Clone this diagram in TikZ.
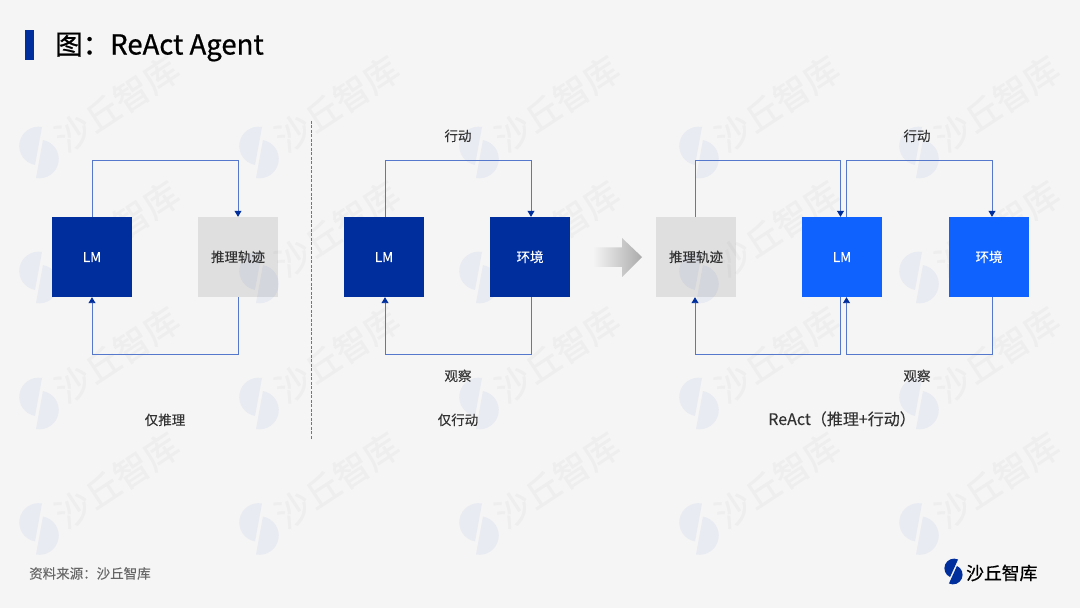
\documentclass[tikz,border=0pt]{standalone}
\usepackage{fontspec}
\usepackage{xcolor}
\setmainfont{Noto Sans CJK SC}[FakeBold=0.15]
\newfontfamily\heavyfont{Noto Sans CJK SC}[FakeBold=0.7]
\usetikzlibrary{arrows.meta,calc}
\definecolor{page}{HTML}{F5F5F5}
\definecolor{text}{HTML}{333333}
\definecolor{muted}{HTML}{666666}
\definecolor{navy}{HTML}{002E9C}
\definecolor{bright}{HTML}{0F62FE}
\definecolor{wire}{HTML}{5577CC}
\definecolor{markdisc}{HTML}{E9EBF2}
\definecolor{markword}{HTML}{EEEEEE}
\newcommand{\px}[1]{\fontsize{#1pt}{#1pt}\selectfont}
\tikzset{
  boxbase/.style={minimum size=80pt, inner sep=0pt, text height=12pt, text depth=2pt, font=\px{13.5}},
  navybox/.style={boxbase, fill=navy, text=white},
  brightbox/.style={boxbase, fill=bright, text=white},
  greybox/.style={boxbase, fill=black, fill opacity=0.085, text=text, text opacity=1},
  wirearrow/.style={-{Triangle[length=6pt,width=7pt,color=navy]}, line width=0.9pt, draw=wire},
  label/.style={text=text, inner sep=0pt, text height=12pt, text depth=2pt, font=\px{13.5}},
  markword/.style={text=markword, inner sep=0pt, rotate=33.5, font=\heavyfont\px{35}},
  halves/.pic={
    \fill (3,25.5) arc[start angle=79.6, end angle=259.6, radius=19.3] -- cycle;
    \fill (-3,-25.5) arc[start angle=259.6, end angle=439.6, radius=19.3] -- cycle;
  }
}
\begin{document}
\begin{tikzpicture}[x=1pt,y=1pt,>=Latex]
    \useasboundingbox[fill=page] (0,0) rectangle (1080,608);

    % watermark
    \foreach \cx in {39,259,479,699,919} {
      \foreach \cy in {455.5,330.5,204.5,79} {
        \pic[fill=markdisc] at (\cx,\cy) {halves};
        \node[markword] at (\cx+78,\cy+49) {沙丘智库};
      }
    }

    % title
    \fill[navy] (25,548) rectangle (34,578);
    \node (title) [anchor=west,text=black,inner sep=0pt,font=\heavyfont\px{27.5}] at (55,561) {图：ReAct Agent};

    % reasoning only
    \node (lmA) [navybox] at (92,351) {LM};
    \node (traceA) [greybox] at (238,351) {推理轨迹};
    \draw[wirearrow] (lmA.north) -- ++(0,56) -| (traceA.north);
    \draw[wirearrow] (traceA.south) -- ++(0,-57) -| (lmA.south);
    \node (capA) [label] at (165,188) {仅推理};

    \coordinate (cutTop) at (311,487);
    \coordinate (cutEnd) at (311,169);
    \draw[wire,dash pattern=on 3pt off 1.5pt,line width=0.7pt] (cutTop) -- (cutEnd);

    % acting only
    \node (lmB) [navybox] at (384,351) {LM};
    \node (envB) [navybox] at (530,351) {环境};
    \draw[wirearrow] ($(lmB.north)+(1,0)$) -- ++(0,56) -| ($(envB.north)+(1,0)$);
    \draw[wirearrow] ($(envB.south)+(1,0)$) -- ++(0,-57) -| ($(lmB.south)+(1,0)$);
    \node (actB) [label] at (458,472) {行动};
    \node (obsB) [label] at (458,232) {观察};
    \node (capB) [label] at (458,188) {仅行动};

    % big arrow
    \shade[left color=page,right color=black!33] (593,341) -- (622,341) -- (622,331) -- (642,351) -- (622,370) -- (622,360.5) -- (593,360.5) -- cycle;

    % react
    \node (traceC) [greybox] at (696,351) {推理轨迹};
    \node (lmC) [brightbox] at (842,351) {LM};
    \node (envC) [brightbox] at (989,351) {环境};
    \draw[wirearrow] ($(traceC.north)+(-1,0)$) -- ++(0,56) -| ($(lmC.north)+(-1.5,0)$);
    \draw[wirearrow] ($(lmC.north)+(4.5,0)$) -- ++(0,56) -| ($(envC.north)+(3,0)$);
    \draw[wirearrow] ($(envC.south)+(3,0)$) -- ++(0,-57) -| ($(lmC.south)+(4.5,0)$);
    \draw[wirearrow] ($(lmC.south)+(-1.5,0)$) -- ++(0,-57) -| ($(traceC.south)+(-1,0)$);
    \node (actC) [label] at (917,472) {行动};
    \node (obsC) [label] at (917,232) {观察};
    \node (capC) [label,font=\px{16}] at (842,188) {ReAct（推理+行动）};

    % footer
    \node (source) [anchor=west,text=muted,inner sep=0pt,font=\px{13.5}] at (29,34.5) {资料来源：沙丘智库};
    \pic[fill=navy,scale=0.5,rotate=-14] at (953.5,36.5) {halves};
    \node (brand) [anchor=west,text=black,inner sep=0pt,font=\heavyfont\px{17.8}] at (966,35) {沙丘智库};
\end{tikzpicture}
\end{document}
